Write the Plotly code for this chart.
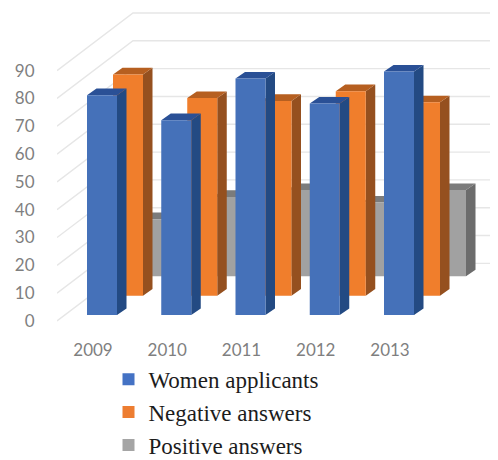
import plotly.graph_objects as go

years = ["2009", "2010", "2011", "2012", "2013"]
women = [79, 70, 85, 76, 87.5]
negative = [79.5, 71, 70, 73.5, 69.5]
positive = [20.5, 28.5, 31, 26.5, 31]
y_ticks = [0, 10, 20, 30, 40, 50, 60, 70, 80, 90]

PAGE = 8              # default body margin of the page
W, H = 498 - PAGE, 480 - PAGE
L, R, T, B = 57, 498, 8, 330   # plot box in window pixels
PX_X = 74.25          # pixels per category
PX_Y = 2.8            # pixels per value unit
X0_PX = 93            # pixel of first category label
Y0_PX = 323           # pixel of value 0 at the front of the floor


def ux(px):
    return px / PX_X


def uy(px):
    return px / PX_Y


x_range = [ux(L - X0_PX), ux(R - X0_PX)]
y_range = [uy(Y0_PX - B), uy(Y0_PX - T)]

bar_w = ux(30)
dep_x, dep_y = ux(9.5), uy(6.7)
ser_x, ser_y = ux(26), uy(19.5)
bar_x0 = ux(87 - X0_PX)
base_y0 = uy(Y0_PX - 317)

series = [
    ("Positive answers", positive, 2, "#a1a1a1", "#6c6c6c", "#7b7b7b"),
    ("Negative answers", negative, 1, "#f07e2c", "#95501f", "#b65f20"),
    ("Women applicants", women, 0, "#4571b9", "#234a83", "#2a5096"),
]
legend_order = [("Women applicants", "#4472c4"), ("Negative answers", "#ed7d31"), ("Positive answers", "#a5a5a5")]

fig = go.Figure()

wall_dx, wall_dy = ux(76), uy(58)
gx, gy = [], []
for v in y_ticks:
    gx += [x_range[0], x_range[0] + wall_dx, x_range[1], None]
    gy += [v, v + wall_dy, v + wall_dy, None]
fig.add_trace(go.Scatter(x=gx, y=gy, mode="lines", line=dict(color="#e6e6e6", width=1.4),
                         showlegend=False, hoverinfo="skip", cliponaxis=False))


def poly(xs, ys, color):
    fig.add_trace(go.Scatter(x=xs, y=ys, mode="lines", fill="toself", fillcolor=color,
                             line=dict(width=0, color=color), showlegend=False, hoverinfo="skip"))


for name, vals, s, c_front, c_side, c_top in series:
    fx, fy, sx, sy, tx, ty = [], [], [], [], [], []
    for i, v in enumerate(vals):
        x0 = i + bar_x0 + s * ser_x
        x1 = x0 + bar_w
        b = base_y0 + s * ser_y
        t = b + v
        fx += [x0, x1, x1, x0, x0, None]
        fy += [b, b, t, t, b, None]
        sx += [x1, x1 + dep_x, x1 + dep_x, x1, x1, None]
        sy += [b, b + dep_y, t + dep_y, t, b, None]
        tx += [x0, x1, x1 + dep_x, x0 + dep_x, x0, None]
        ty += [t, t, t + dep_y, t + dep_y, t, None]
    poly(sx, sy, c_side)
    poly(tx, ty, c_top)
    poly(fx, fy, c_front)

for name, color in legend_order:
    fig.add_trace(go.Scatter(x=[None], y=[None], mode="markers", name=name, legendgroup=name,
                             marker=dict(symbol="square", size=12, color=color)))

fig.update_layout(
    width=W, height=H,
    margin=dict(l=L - PAGE, r=0, t=0, b=0, pad=0),
    paper_bgcolor="white", plot_bgcolor="white",
    showlegend=True,
    legend=dict(
        x=(108.5 - L) / (R - L), y=1 - (360 - PAGE) / H, xanchor="left", yanchor="top",
        font=dict(family="Liberation Serif", size=23, color="#1c1c1c"),
        tracegroupgap=0, bgcolor="rgba(0,0,0,0)", itemwidth=30,
    ),
    xaxis=dict(
        range=x_range, tickmode="array", tickvals=list(range(len(years))), ticktext=years,
        showgrid=False, zeroline=False, showline=False, ticks="outside", ticklen=7,
        tickcolor="rgba(0,0,0,0)", tickangle=0,
        tickfont=dict(family="Lato", size=17, color="#7f7f7f"),
    ),
    yaxis=dict(
        domain=[1 - (B - PAGE) / H, 1],
        range=y_range, tickmode="array", tickvals=y_ticks,
        showgrid=False, zeroline=False, showline=False, ticks="outside", ticklen=18,
        tickcolor="rgba(0,0,0,0)",
        tickfont=dict(family="Lato", size=17, color="#7f7f7f"),
    ),
)

fig.write_html("out.html", config={"displayModeBar": False})
